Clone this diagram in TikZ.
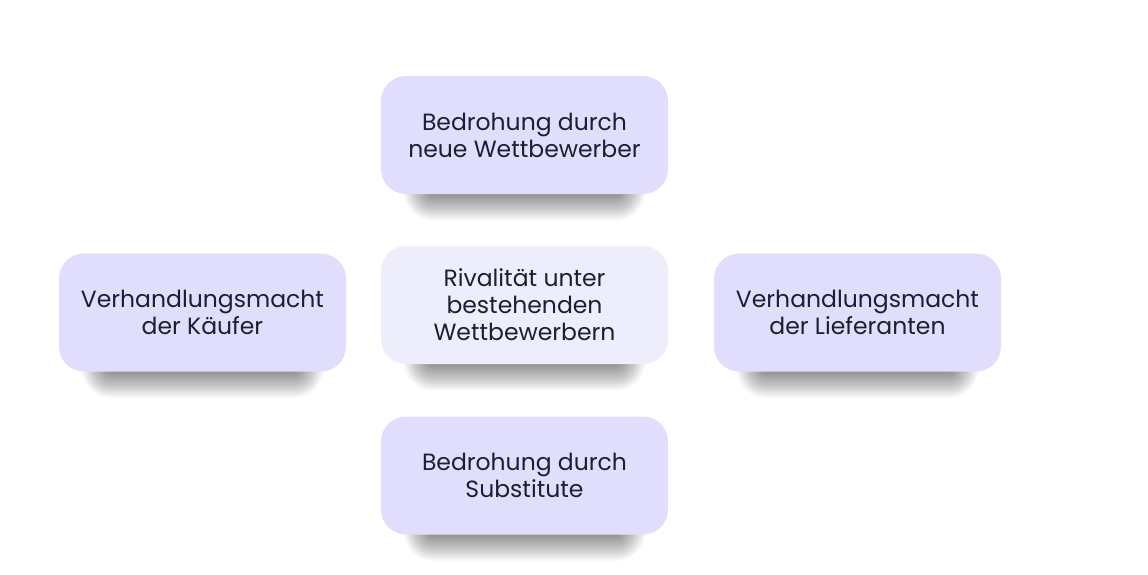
\documentclass[tikz,border=0pt]{standalone}
\usepackage{fontspec}
\setmainfont{Poppins}
\usetikzlibrary{backgrounds}
\definecolor{boxfill}{HTML}{E1DEFD}
\definecolor{centerfill}{HTML}{EEEDFC}
\definecolor{txt}{HTML}{1B2030}
\tikzset{
  force/.style={rectangle, rounded corners=25pt, fill=boxfill, minimum width=287pt, minimum height=118pt, inner sep=0pt, align=center, text=txt, font=\fontsize{23.5}{27}\selectfont},
  centerforce/.style={force, fill=centerfill}
}
\newcommand{\softshadow}[1]{%
  \begin{pgfonlayer}{background}
  \foreach \i in {0,...,23}{
    \pgfmathsetmacro{\e}{1.1*\i}
    \fill[black, opacity=0.019, rounded corners={(\e+4)*1pt}]
      ([xshift={(48-\e)*1pt}, yshift=25pt]#1.south west) rectangle
      ([xshift={(\e-48)*1pt}, yshift={(-1-\e)*1pt}]#1.south east);
  }
  \end{pgfonlayer}}
\begin{document}
\begin{tikzpicture}[x=1pt,y=-1pt]
\begin{pgfonlayer}{background}
\fill[white] (0,0) rectangle (1148,574);
\end{pgfonlayer}
\useasboundingbox (0,0) rectangle (1148,574);
\node[force] (top) at (524.5,135) {Bedrohung durch\\neue Wettbewerber};
\node[centerforce] (mid) at (524.5,305) {Rivalität unter\\bestehenden\\Wettbewerbern};
\node[force] (left) at (202.5,312.5) {Verhandlungsmacht\\der Käufer};
\node[force] (right) at (857.5,312.5) {Verhandlungsmacht\\der Lieferanten};
\node[force] (bottom) at (524.5,475.5) {Bedrohung durch\\Substitute};
\softshadow{top}
\softshadow{mid}
\softshadow{left}
\softshadow{right}
\softshadow{bottom}
\end{tikzpicture}
\end{document}
